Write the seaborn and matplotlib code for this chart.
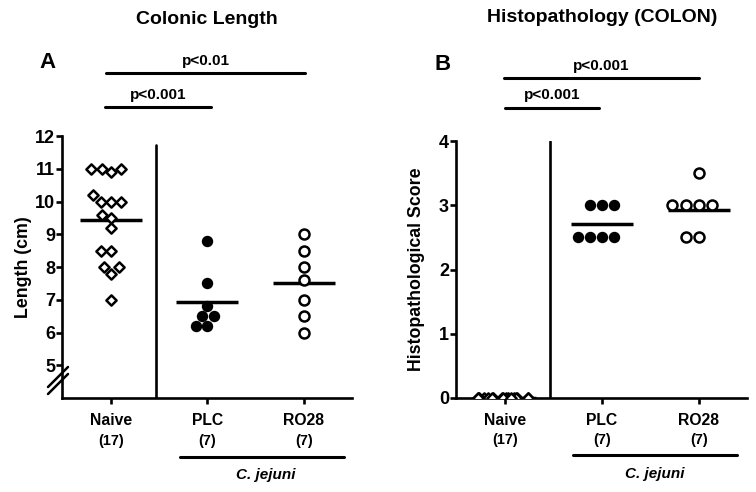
import numpy as np
import pandas as pd
import matplotlib
matplotlib.use("Agg")
import matplotlib.pyplot as plt
import matplotlib.transforms as mtransforms
import seaborn as sns

# group names and n
groups = ["Naive", "PLC", "RO28"]
group_n = ["(17)", "(7)", "(7)"]

# colonic length (cm)
naive_len = [11.0, 11.0, 10.9, 11.0, 10.2, 10.0, 10.0, 10.0, 9.5, 9.6, 9.2, 8.5, 8.5, 8.0, 7.8, 8.0, 7.0]
plc_len = [8.8, 7.5, 6.8, 6.5, 6.5, 6.2, 6.2]
ro28_len = [9.0, 8.5, 8.0, 7.6, 7.0, 6.5, 6.0]

# histopathological score
naive_hist = [0, 0, 0, 0, 0, 0, 0, 0, 0, 0, 0, 0, 0, 0, 0, 0, 0]
plc_hist = [3.0, 3.0, 3.0, 2.5, 2.5, 2.5, 2.5]
ro28_hist = [3.5, 3.0, 3.0, 3.0, 3.0, 2.5, 2.5]


def make_df(naive, plc, ro28):
    return pd.DataFrame({
        "group": ["Naive"] * len(naive) + ["PLC"] * len(plc) + ["RO28"] * len(ro28),
        "value": naive + plc + ro28,
    })


len_df = make_df(naive_len, plc_len, ro28_len)
hist_df = make_df(naive_hist, plc_hist, ro28_hist)

sns.set_style("white")
plt.rcParams['font.family'] = ['Liberation Sans', 'DejaVu Sans']
plt.rcParams['font.weight'] = 'bold'
plt.rcParams['text.color'] = 'black'
plt.rcParams['axes.labelcolor'] = 'black'
plt.rcParams['xtick.color'] = 'black'
plt.rcParams['ytick.color'] = 'black'

fig = plt.figure(figsize=(7.56, 4.92), dpi=100)
axA = fig.add_axes([62 / 756, 94 / 492, 290 / 756, 262 / 492])
axB = fig.add_axes([456 / 756, 94 / 492, 291 / 756, 257 / 492])

open_kw = dict(color="white", edgecolor="black", linewidth=1.8)


def draw_points(ax, df, naive_strip=False):
    naive = df[df.group == "Naive"]
    if naive_strip:
        np.random.seed(3)
        sns.stripplot(data=naive, x="group", y="value", order=groups, jitter=0.3,
                      marker="D", size=5.2, ax=ax, **open_kw)
    else:
        sns.swarmplot(data=naive, x="group", y="value", order=groups,
                      marker="D", size=5.2, ax=ax, **open_kw)
    sns.swarmplot(data=df[df.group == "PLC"], x="group", y="value", order=groups,
                  marker="o", size=7.2, color="black", edgecolor="black", linewidth=1, ax=ax)
    sns.swarmplot(data=df[df.group == "RO28"], x="group", y="value", order=groups,
                  marker="o", size=7.2, ax=ax, **open_kw)
    # mean lines
    sns.pointplot(data=df, x="group", y="value", order=groups, estimator="mean",
                  errorbar=None, color="black", marker="_", markersize=45,
                  markeredgewidth=2.5, linestyle="none", ax=ax)


draw_points(axA, len_df)
draw_points(axB, hist_df, naive_strip=True)

for ax in (axA, axB):
    ax.set_xlim(-0.51, 2.5)
    ax.set_xticks([0, 1, 2])
    ax.set_xticklabels(groups, fontsize=11.3, fontweight="bold")
    ax.set_xlabel("")
    for s in ["top", "right"]:
        ax.spines[s].set_visible(False)
    for s in ["left", "bottom"]:
        ax.spines[s].set_linewidth(1.9)
        ax.spines[s].set_color("black")
    ax.tick_params(axis="y", which="major", length=4, width=1.9, color="black",
                   labelsize=13, left=True, pad=1)
    ax.tick_params(axis="x", which="major", length=4, width=1.9, color="black",
                   bottom=True, pad=7)
    trans = mtransforms.blended_transform_factory(ax.transData, ax.transAxes)
    for i, n in enumerate(group_n):
        ax.text(i, -0.163, n, transform=trans, ha="center", va="center",
                fontsize=10.4, fontweight="bold")

axA.set_ylim(4, 12)
axA.set_yticks(range(5, 13))
axA.set_ylabel("Length (cm)", fontsize=12.8, fontweight="bold", labelpad=2)
axA.axvline(0.47, ymin=0, ymax=0.966, color="black", lw=1.9)

axB.set_ylim(0, 4)
axB.set_yticks(range(0, 5))
axB.set_ylabel("Histopathological Score", fontsize=12.8, fontweight="bold", labelpad=10)
axB.axvline(0.46, ymin=0, ymax=1.0, color="black", lw=1.9)

for ax in (axA, axB):
    for lab in ax.get_yticklabels():
        lab.set_fontweight("bold")

# axis break marks on panel A
for dy in (0, 7):
    fig.add_artist(plt.Line2D([48 / 756, 68 / 756],
                              [1 - (392 + dy - 5) / 492, 1 - (372 + dy - 5) / 492],
                              color="black", lw=1.8))


def bracket(ax, x0, x1, y, text, ty):
    trans = mtransforms.blended_transform_factory(ax.transData, ax.transAxes)
    ax.plot([x0, x1], [y, y], color="black", lw=2.2, transform=trans, clip_on=False)
    ax.text((x0 + x1) / 2, ty, text, transform=trans, ha="center", va="center",
            fontsize=11, fontweight="bold")


bracket(axA, -0.05, 2.01, 1.24, "p<0.01", 1.285)
bracket(axA, -0.06, 1.04, 1.11, "p<0.001", 1.155)
bracket(axB, -0.01, 2.0, 1.245, "p<0.001", 1.29)
bracket(axB, 0.0, 0.97, 1.13, "p<0.001", 1.178)

# C. jejuni group lines
transA = mtransforms.blended_transform_factory(axA.transData, axA.transAxes)
axA.plot([0.715, 2.42], [-0.225, -0.225], color="black", lw=2.2, transform=transA, clip_on=False)
axA.text(1.6, -0.295, "C. jejuni", transform=transA, ha="center", va="center",
         fontsize=11, fontweight="bold", style="italic")
transB = mtransforms.blended_transform_factory(axB.transData, axB.transAxes)
axB.plot([0.70, 2.40], [-0.222, -0.222], color="black", lw=2.2, transform=transB, clip_on=False)
axB.text(1.55, -0.296, "C. jejuni", transform=transB, ha="center", va="center",
         fontsize=11, fontweight="bold", style="italic")

# titles and panel letters
fig.text(207 / 756, 1 - 20 / 492, "Colonic Length", ha="center", va="center",
         fontsize=14, fontweight="bold")
fig.text(602 / 756, 1 - 18 / 492, "Histopathology (COLON)", ha="center", va="center",
         fontsize=14, fontweight="bold")
fig.text(47 / 756, 1 - 62 / 492, "A", ha="center", va="center", fontsize=16, fontweight="bold")
fig.text(443 / 756, 1 - 64 / 492, "B", ha="center", va="center", fontsize=16, fontweight="bold")

fig.savefig("out.png", dpi=100, facecolor="white")
